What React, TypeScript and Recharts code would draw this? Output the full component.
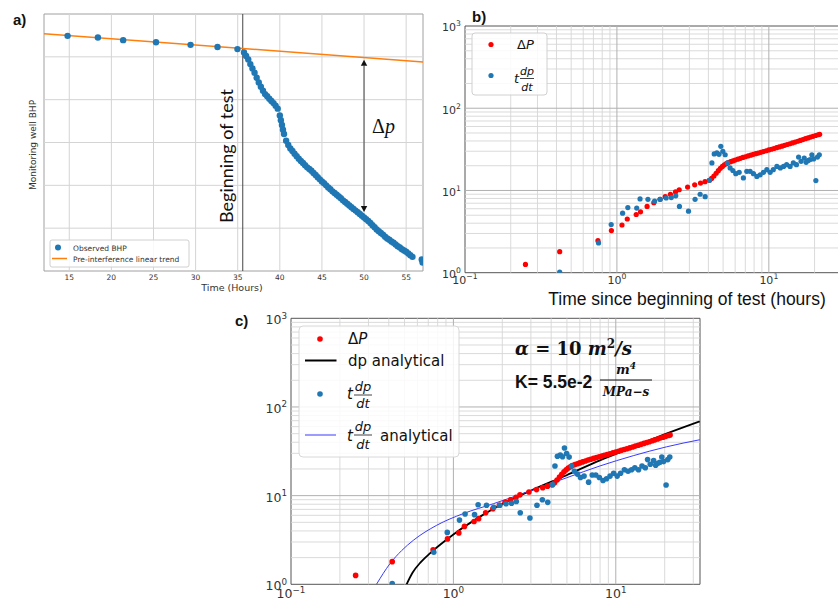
import {
  ComposedChart,
  Line,
  ReferenceArea,
  ReferenceLine,
  Scatter,
  XAxis,
  YAxis
} from "recharts";

// a) monitoring well pressure vs time (y axis has no units / labels)
const bhpHours = [
  14.8, 18.4, 21.4, 25.3, 29.4, 32.6, 34.97,
  35.75, 36, 36.25, 36.5, 36.75, 37, 37.25, 37.5, 37.75, 38, 38.25, 38.5, 38.75, 39, 39.25, 39.5, 39.75,
  40, 40.125, 40.25, 40.375, 40.5, 40.75, 41, 41.25, 41.5, 41.75, 42, 42.25, 42.5, 42.75, 43, 43.25, 43.5,
  43.75, 44, 44.25, 44.5, 44.75, 45, 45.25, 45.5, 45.75, 46, 46.25, 46.5, 46.75, 47, 47.25, 47.5, 47.75,
  48, 48.25, 48.5, 48.75, 49, 49.25, 49.5, 49.75, 50, 50.25, 50.5, 50.75, 51, 51.25, 51.5, 51.75, 52,
  52.25, 52.5, 52.75, 53, 53.25, 53.5, 53.75, 54, 54.25, 54.5, 54.75, 55, 55.25, 55.5, 55.75, 56.85, 56.95
];
const bhpValues = [
  5.49, 5.45, 5.39, 5.34, 5.28, 5.23, 5.18,
  5.1, 5.02, 4.94, 4.83, 4.73, 4.63, 4.51, 4.4, 4.3, 4.21, 4.13, 4.08, 4.02, 3.97, 3.92, 3.86, 3.79,
  3.63, 3.52, 3.41, 3.3, 3.2, 3.04, 2.94, 2.86, 2.8, 2.74, 2.68, 2.62, 2.57, 2.52, 2.47, 2.42, 2.38,
  2.34, 2.29, 2.24, 2.19, 2.14, 2.09, 2.05, 2.0, 1.95, 1.91, 1.86, 1.82, 1.78, 1.74, 1.7, 1.65, 1.61,
  1.57, 1.53, 1.49, 1.45, 1.41, 1.37, 1.33, 1.29, 1.25, 1.21, 1.17, 1.12, 1.07, 1.02, 0.97, 0.93, 0.89,
  0.85, 0.8, 0.76, 0.73, 0.69, 0.66, 0.62, 0.58, 0.55, 0.51, 0.48, 0.45, 0.41, 0.37, 0.33, 0.27, 0.2
];
const trendHours = [12, 57];
const trendValues = [5.54, 4.88];
const timeTicks = [15, 20, 25, 30, 35, 40, 45, 50, 55];
const bhpGridLevels = [1, 2, 3, 4, 5];
const testStartHour = 35.6;
const arrowHour = 50;
const arrowTop = 4.93;
const arrowBottom = 1.38;

// b) and c) log-log diagnostics, same measurements in both panels
const dpHours = [
  0.25, 0.42, 0.75, 0.92, 1.08, 1.17, 1.34, 1.43, 1.58, 1.75, 1.92, 2.08, 2.25, 2.43, 2.57, 2.92, 3.25,
  3.55, 3.8, 4.05, 4.2, 4.35, 4.5, 4.65, 4.8, 4.95, 5.1, 5.25, 5.4, 5.6, 5.8, 6.0, 6.25, 6.5, 6.75, 7.0,
  7.3, 7.6, 7.9, 8.2, 8.5, 8.85, 9.2, 9.6, 10.0, 10.4, 10.8, 11.25, 11.7, 12.2, 12.7, 13.2, 13.75, 14.3,
  14.9, 15.5, 16.1, 16.75, 17.4, 18.1, 18.8, 19.55, 20.3, 21.1, 21.6
];
const dpValues = [
  1.26, 1.8, 2.45, 3.25, 3.8, 4.5, 5.1, 5.5, 6.4, 7.1, 7.8, 8.4, 9.0, 9.6, 10.2, 11.0, 11.7, 12.3, 12.8,
  13.3, 14.0, 15.0, 16.2, 17.4, 18.6, 19.6, 20.5, 21.2, 21.8, 22.4, 22.9, 23.4, 24.0, 24.6, 25.2, 25.7,
  26.3, 26.9, 27.5, 28.0, 28.5, 29.1, 29.7, 30.4, 31.1, 31.7, 32.4, 33.1, 33.8, 34.6, 35.4, 36.2, 37.0,
  37.9, 38.8, 39.7, 40.6, 41.6, 42.6, 43.6, 44.6, 45.6, 46.6, 47.6, 48.2
];
const derivHours = [
  0.42, 0.757, 0.917, 1.09, 1.18, 1.35, 1.42, 1.6, 1.77, 1.93, 2.11, 2.28, 2.44, 2.58, 2.96, 3.27, 3.53,
  3.81, 4.08, 4.22, 4.37, 4.55, 4.7, 4.83, 4.98, 5.16, 5.34, 5.56, 5.8, 6.06, 6.38, 6.8, 7.16, 7.53, 7.92,
  8.34, 8.77, 9.22, 9.7, 10.2, 10.7, 11.3, 11.9, 12.5, 13.1, 13.8, 14.5, 15.2, 15.7, 16.3, 17.1, 17.6,
  18.2, 18.7, 19.2, 19.7, 20.4, 20.9, 21.5
];
const derivValues = [
  1.02, 2.3, 3.85, 5.3, 6.2, 6.1, 7.9, 7.8, 7.4, 7.8, 8.1, 8.2, 8.6, 6.4, 5.6, 7.8, 9.0, 8.4, 13.3, 21.6,
  27.8, 28.6, 27.5, 34.4, 29.9, 27.2, 21.6, 18.8, 17.5, 16.0, 16.6, 14.2, 17.1, 17.1, 16.0, 14.8, 15.5,
  16.6, 17.9, 16.6, 17.9, 19.6, 18.8, 19.6, 20.6, 19.6, 21.6, 20.6, 25.5, 22.6, 24.8, 22.0, 23.2, 23.8,
  27.2, 24.2, 13.2, 25.5, 27.2
];
const dpModelHours = [0.515, 0.56, 0.63, 0.72, 0.85, 1.0, 1.46, 2.23, 3.03, 4.98, 7.98, 12.8, 20.5, 32.9];
const dpModelValues = [1.0, 1.35, 1.78, 2.25, 2.9, 3.65, 5.8, 8.9, 11.5, 17.0, 25.0, 35.3, 50.0, 68.8];
const derivModelHours = [0.336, 0.407, 0.48, 0.566, 0.789, 1.15, 1.76, 3.1, 4.98, 7.98, 12.8, 20.5, 32.9];
const derivModelValues = [1.0, 1.71, 2.4, 3.13, 4.63, 6.27, 8.1, 11.6, 15.9, 21.6, 28.2, 35.5, 42.7];

const hourDecades = [0.1, 1, 10];
const pressureDecades = [1, 10, 100, 1000];
const minorHours = [0.2, 0.3, 0.4, 0.5, 0.6, 0.7, 0.8, 0.9, 2, 3, 4, 5, 6, 7, 8, 9, 20, 30];
const minorPressure = [
  2, 3, 4, 5, 6, 7, 8, 9, 20, 30, 40, 50, 60, 70, 80, 90, 200, 300, 400, 500, 600, 700, 800, 900
];

const zip = (xs: number[], ys: number[]) => xs.map((x, i) => ({ x, y: ys[i] }));

const bhpTable = zip(bhpHours, bhpValues);
const trendTable = zip(trendHours, trendValues);
const dpTable = zip(dpHours, dpValues);
const derivTable = zip(derivHours, derivValues);
const dpModelTable = zip(dpModelHours, dpModelValues);
const derivModelTable = zip(derivModelHours, derivModelValues);

const SANS = "DejaVu Sans";
const BLUE = "#1f77b4";
const GRID_A = "#d4d4d4";

const dot = (r: number, color: string) => (p: any) => <circle cx={p.cx} cy={p.cy} r={r} fill={color} />;

function exponentText(value: number) {
  const exp = Math.round(Math.log10(value));
  return exp < 0 ? `\u2212${-exp}` : `${exp}`;
}

function XPowTick({ x, y, payload, fontSize, offset }: any) {
  return (
    <text x={x} y={y + offset} textAnchor="middle" fontSize={fontSize} fontFamily={SANS} fill="#333">
      10
      <tspan dy={-fontSize * 0.45} fontSize={fontSize * 0.7}>{exponentText(payload.value)}</tspan>
    </text>
  );
}

function YPowTick({ x, y, payload, fontSize }: any) {
  return (
    <text x={x - 4} y={y + fontSize * 0.48} textAnchor="end" fontSize={fontSize} fontFamily={SANS} fill="#333">
      10
      <tspan dy={-fontSize * 0.45} fontSize={fontSize * 0.7}>{exponentText(payload.value)}</tspan>
    </text>
  );
}

function TimeTick({ x, y, payload }: any) {
  return (
    <text x={x} y={y + 9} textAnchor="middle" fontSize={7.5} fontFamily={SANS} fill="#333">
      {payload.value}
    </text>
  );
}

function ArrowShape({ x1, y1, x2, y2 }: any) {
  const h = 6;
  const w = 3.2;
  return (
    <g>
      <line x1={x1} y1={y1 + h} x2={x2} y2={y2 - h} stroke="#333" strokeWidth={0.9} />
      <polygon points={`${x1},${y1} ${x1 - w},${y1 + h} ${x1 + w},${y1 + h}`} fill="#111" />
      <polygon points={`${x2},${y2} ${x2 - w},${y2 - h} ${x2 + w},${y2 - h}`} fill="#111" />
    </g>
  );
}

function TimeSeriesPanel() {
  return (
    <ComposedChart width={430} height={300} margin={{ top: 14, right: 7, bottom: 9, left: 43 }}>
      <XAxis
        type="number"
        dataKey="x"
        domain={[12, 57]}
        ticks={timeTicks}
        interval={0}
        allowDataOverflow
        height={20}
        tickLine={false}
        axisLine={false}
        tickSize={0}
        tickMargin={0}
        tick={(p: any) => <TimeTick {...p} />}
      />
      <YAxis type="number" dataKey="y" domain={[0, 6]} ticks={[0, 6]} width={1} tick={false} axisLine={false} tickLine={false} />
      {timeTicks.map((t) => (
        <ReferenceLine key={`v${t}`} x={t} stroke={GRID_A} />
      ))}
      {bhpGridLevels.map((v) => (
        <ReferenceLine key={`h${v}`} y={v} stroke={GRID_A} />
      ))}
      <ReferenceArea x1={12} x2={57} y1={0} y2={6} fill="none" stroke="#a0a0a0" />
      <ReferenceLine x={testStartHour} stroke="#444" strokeWidth={1} />
      <Scatter data={bhpTable} shape={dot(3.2, BLUE)} isAnimationActive={false} />
      <Line data={trendTable} dataKey="y" type="linear" stroke="#ff7f0e" strokeWidth={1.5} dot={false} isAnimationActive={false} />
      <ReferenceLine
        segment={[{ x: arrowHour, y: arrowTop }, { x: arrowHour, y: arrowBottom }]}
        shape={(p: any) => <ArrowShape {...p} />}
      />
    </ComposedChart>
  );
}

type LogPanelProps = {
  width: number;
  height: number;
  margin: { top: number; right: number; bottom: number; left: number };
  yAxisWidth: number;
  xAxisHeight: number;
  fontSize: number;
  xTickOffset: number;
  dotRadius: number;
  withModels: boolean;
};

function LogPanel({ width, height, margin, yAxisWidth, xAxisHeight, fontSize, xTickOffset, dotRadius, withModels }: LogPanelProps) {
  return (
    <ComposedChart width={width} height={height} margin={margin}>
      <XAxis
        type="number"
        dataKey="x"
        scale="log"
        domain={[0.1, 33]}
        ticks={hourDecades}
        interval={0}
        allowDataOverflow
        height={xAxisHeight}
        tickLine={false}
        axisLine={false}
        tickSize={0}
        tickMargin={0}
        tick={(p: any) => <XPowTick {...p} fontSize={fontSize} offset={xTickOffset} />}
      />
      <YAxis
        type="number"
        dataKey="y"
        scale="log"
        domain={[1, 1000]}
        ticks={pressureDecades}
        interval={0}
        allowDataOverflow
        width={yAxisWidth}
        tickLine={false}
        axisLine={false}
        tickSize={0}
        tickMargin={0}
        tick={(p: any) => <YPowTick {...p} fontSize={fontSize} />}
      />
      {minorHours.map((h) => (
        <ReferenceLine key={`mx${h}`} x={h} stroke="#d6d6d6" strokeWidth={0.9} />
      ))}
      {minorPressure.map((v) => (
        <ReferenceLine key={`my${v}`} y={v} stroke="#d6d6d6" strokeWidth={0.9} />
      ))}
      {[1, 10].map((h) => (
        <ReferenceLine key={`Mx${h}`} x={h} stroke="#b0b0b0" strokeWidth={1} />
      ))}
      {[10, 100].map((v) => (
        <ReferenceLine key={`My${v}`} y={v} stroke="#b0b0b0" strokeWidth={1} />
      ))}
      <ReferenceArea x1={0.1} x2={33} y1={1} y2={1000} fill="none" stroke="#555" />
      <Scatter data={dpTable} shape={dot(dotRadius, "#ff0000")} isAnimationActive={false} />
      {withModels && (
        <Line data={dpModelTable} dataKey="y" type="monotone" stroke="#000" strokeWidth={1.8} dot={false} isAnimationActive={false} />
      )}
      <Scatter data={derivTable} shape={dot(dotRadius, BLUE)} isAnimationActive={false} />
      {withModels && (
        <Line data={derivModelTable} dataKey="y" type="monotone" stroke="#3a3aff" strokeWidth={1} dot={false} isAnimationActive={false} />
      )}
    </ComposedChart>
  );
}

function Frac({ cx, numY, barY, denY, half, size, num, den }: any) {
  return (
    <g fontFamily={SANS} fontStyle="italic" fontSize={size} fill="#111">
      <text x={cx} y={numY} textAnchor="middle">{num}</text>
      <line x1={cx - half} x2={cx + half} y1={barY} y2={barY} stroke="#111" strokeWidth={0.8} />
      <text x={cx} y={denY} textAnchor="middle">{den}</text>
    </g>
  );
}

function Annotations() {
  return (
    <svg width={838} height={602} style={{ position: "absolute", left: 0, top: 0, pointerEvents: "none" }}>
      {/* panel letters */}
      <g fontFamily="Liberation Sans" fontWeight="bold" fontSize={15} fill="#111">
        <text x={13} y={25}>a)</text>
        <text x={472} y={22}>b)</text>
        <text x={235} y={326}>c)</text>
      </g>

      {/* panel a */}
      <text transform="translate(36,145) rotate(-90)" textAnchor="middle" fontFamily={SANS} fontSize={9} fill="#333">
        Monitoring well BHP
      </text>
      <text x={232} y={291} textAnchor="middle" fontFamily={SANS} fontSize={9.5} fill="#333">
        Time (Hours)
      </text>
      <text transform="translate(233,156) rotate(-90)" textAnchor="middle" fontFamily="Lato" fontSize={18} fill="#111">
        Beginning of test
      </text>
      <text x={372} y={133} fontFamily="Liberation Serif" fontSize={20} fill="#111">
        Δ<tspan fontStyle="italic">p</tspan>
      </text>
      <rect x={50} y={240} width={139} height={27} rx={2} fill="#fff" fillOpacity={0.85} stroke="#d0d0d0" />
      <circle cx={58} cy={247.5} r={3} fill={BLUE} />
      <text x={73} y={250.5} fontFamily={SANS} fontSize={7.5} fill="#333">Observed BHP</text>
      <line x1={52} x2={67} y1={258.5} y2={258.5} stroke="#ff7f0e" strokeWidth={1.5} />
      <text x={73} y={261.5} fontFamily={SANS} fontSize={7.5} fill="#333">Pre-interference linear trend</text>

      {/* panel b */}
      <text x={687} y={305} textAnchor="middle" fontFamily="Liberation Sans" fontSize={17.5} fill="#111">
        Time since beginning of test (hours)
      </text>
      <rect x={472} y={33} width={75} height={62} rx={3} fill="#fff" fillOpacity={0.85} stroke="#d0d0d0" />
      <circle cx={491} cy={44.5} r={2.6} fill="#ff0000" />
      <text x={517} y={49} fontFamily={SANS} fontSize={13} fill="#111">
        Δ<tspan fontStyle="italic">P</tspan>
      </text>
      <circle cx={491} cy={75.5} r={2.6} fill={BLUE} />
      <text x={514} y={83} fontFamily={SANS} fontStyle="italic" fontSize={13} fill="#111">t</text>
      <Frac cx={527} numY={74.5} barY={78.5} denY={91} half={7} size={11} num="dp" den="dt" />

      {/* panel c */}
      <rect x={299} y={326} width={160} height={131} rx={4} fill="#fff" fillOpacity={0.85} stroke="#d8d8d8" />
      <circle cx={320} cy={339} r={2.8} fill="#ff0000" />
      <text x={348} y={344} fontFamily={SANS} fontSize={15} fill="#111">
        Δ<tspan fontStyle="italic">P</tspan>
      </text>
      <line x1={305} x2={336.5} y1={360.5} y2={360.5} stroke="#000" strokeWidth={2} />
      <text x={348} y={366} fontFamily={SANS} fontSize={15} fill="#111">dp analytical</text>
      <circle cx={320} cy={394} r={2.8} fill={BLUE} />
      <text x={347} y={399} fontFamily={SANS} fontStyle="italic" fontSize={15} fill="#111">t</text>
      <Frac cx={363} numY={390.5} barY={395} denY={408} half={9} size={13} num="dp" den="dt" />
      <line x1={305} x2={336} y1={435} y2={435} stroke="#3a3aff" strokeWidth={1} />
      <text x={347} y={441} fontFamily={SANS} fontStyle="italic" fontSize={15} fill="#111">t</text>
      <Frac cx={363} numY={430.5} barY={435} denY={448.5} half={9} size={13} num="dp" den="dt" />
      <text x={380} y={441} fontFamily={SANS} fontSize={15} fill="#111">analytical</text>

      <text x={515} y={355} fontFamily="DejaVu Serif" fontWeight="bold" fontSize={18} fill="#111">
        <tspan fontStyle="italic">α</tspan> = 10 <tspan fontStyle="italic">m</tspan>
        <tspan dy={-7} fontSize={12}>2</tspan>
        <tspan dy={7} fontStyle="italic">/s</tspan>
      </text>
      <text x={515} y={388} fontFamily="Liberation Sans" fontWeight="bold" fontSize={17.5} fill="#111">
        K= 5.5e-2
      </text>
      <g fontFamily="DejaVu Serif" fontWeight="bold" fontStyle="italic" fill="#111">
        <text x={626} y={374} textAnchor="middle" fontSize={13}>
          m<tspan dy={-5} fontSize={9}>4</tspan>
        </text>
        <line x1={600} x2={652} y1={380} y2={380} stroke="#111" strokeWidth={1} />
        <text x={626} y={396} textAnchor="middle" fontSize={12}>MPa−s</text>
      </g>
    </svg>
  );
}

export default function App() {
  return (
    <div style={{ position: "absolute", left: 0, top: 0, width: 838, height: 602, overflow: "hidden", background: "#fff" }}>
      <div style={{ position: "absolute", left: 0, top: 0 }}>
        <TimeSeriesPanel />
      </div>
      <div style={{ position: "absolute", left: 430, top: 0 }}>
        <LogPanel
          width={420}
          height={300}
          margin={{ top: 26, right: 2.4, bottom: 7.3, left: 0 }}
          yAxisWidth={35}
          xAxisHeight={20}
          fontSize={11}
          xTickOffset={11.5}
          dotRadius={2.6}
          withModels={false}
        />
      </div>
      <div style={{ position: "absolute", left: 230, top: 300 }}>
        <LogPanel
          width={480}
          height={302}
          margin={{ top: 18.3, right: 10, bottom: 0, left: 0 }}
          yAxisWidth={61}
          xAxisHeight={17.7}
          fontSize={12.5}
          xTickOffset={14}
          dotRadius={2.8}
          withModels={true}
        />
      </div>
      <Annotations />
    </div>
  );
}
